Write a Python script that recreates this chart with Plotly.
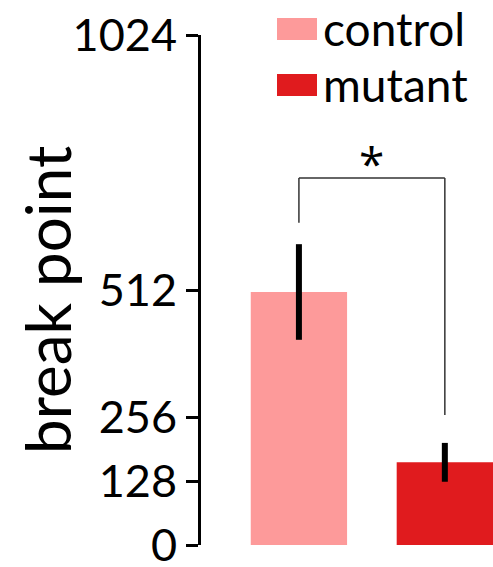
import plotly.graph_objects as go

categories = ["control", "mutant"]
means = [508, 166]
errors = [96, 39]
colors = ["#fd9a9a", "#e01b1e"]
tick_vals = [0, 128, 256, 512, 1024]
tick_text = ["0", "128", "256", "512", "1024"]
y_title = "break point"

FONT = "Lato"
W, H = 493, 567
L, R, T, B = 201, 0, 35, 22

fig = go.Figure()
for i, (c, m, e, col) in enumerate(zip(categories, means, errors, colors)):
    fig.add_trace(go.Bar(
        x=[i], y=[m], name=c, marker=dict(color=col, line=dict(width=0)),
        width=0.66,
        error_y=dict(type="data", array=[e], visible=True, color="black",
                     thickness=6, width=0),
        showlegend=False,
    ))

# significance bracket
sig_y, left_end, right_end = 737, 647, 261
line = dict(color="#333333", width=1.5)
fig.add_shape(type="line", x0=0, x1=0, y0=left_end, y1=sig_y, line=line, xref="x", yref="y")
fig.add_shape(type="line", x0=0, x1=1, y0=sig_y, y1=sig_y, line=line, xref="x", yref="y")
fig.add_shape(type="line", x0=1, x1=1, y0=sig_y, y1=right_end, line=line, xref="x", yref="y")
fig.add_annotation(x=0.5, y=sig_y, xref="x", yref="y", text="*", showarrow=False,
                   yanchor="bottom", yshift=-18, font=dict(family="Open Sans", size=46, color="black"))

# manual legend
pw = W - L - R
ph = H - T - B
def px2x(px):
    return (px - L) / pw
def py2y(py):
    return (H - B - py) / ph

legend_rows = [(18, 40), (74, 96)]
for (y0, y1), c, col in zip(legend_rows, categories, colors):
    fig.add_shape(type="rect", xref="paper", yref="paper",
                  x0=px2x(277), x1=px2x(317), y0=py2y(y1), y1=py2y(y0),
                  fillcolor=col, line=dict(width=0))
    fig.add_annotation(xref="paper", yref="paper", x=px2x(321), y=py2y((y0 + y1) / 2 - 1),
                       text=c, showarrow=False, xanchor="left", yanchor="middle",
                       font=dict(family=FONT, size=46, color="black"))

# y-axis title
fig.add_annotation(xref="paper", yref="paper", x=px2x(47), y=py2y(300),
                   text=y_title, textangle=-90, showarrow=False,
                   xanchor="center", yanchor="middle",
                   font=dict(family=FONT, size=62, color="black"))

fig.update_layout(
    width=W, height=H,
    margin=dict(l=L, r=R, t=T, b=B, pad=0, autoexpand=False),
    plot_bgcolor="white", paper_bgcolor="white",
    bargap=0.34,
    font=dict(family=FONT, color="black"),
    xaxis=dict(range=[-0.671, 1.33], showticklabels=False, showline=False,
               showgrid=False, zeroline=False, ticks="", automargin=False),
    yaxis=dict(range=[0, 1024], tickvals=tick_vals, ticktext=tick_text,
               showline=True, linecolor="black", linewidth=3,
               ticks="outside", ticklen=12, tickwidth=3, tickcolor="black",
               showgrid=False, zeroline=False, ticklabeloverflow="allow",
               automargin=False,
               tickfont=dict(family=FONT, size=45, color="black")),
)

fig.write_html("out.html")
